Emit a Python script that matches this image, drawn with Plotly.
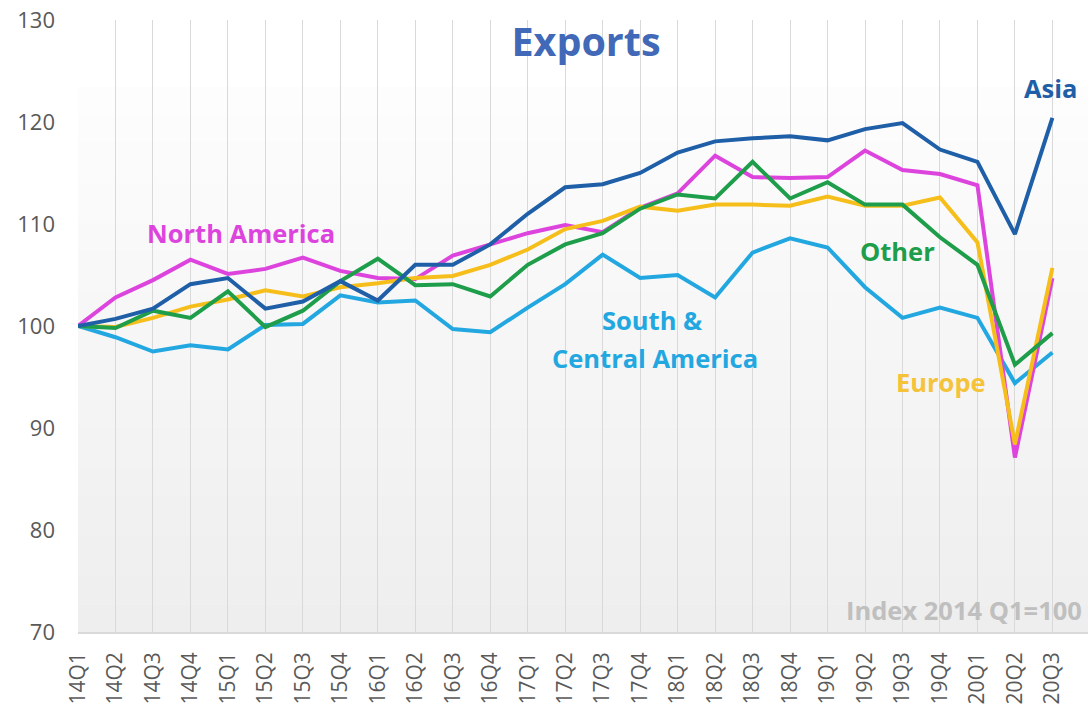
import plotly.graph_objects as go

quarters = ["14Q1","14Q2","14Q3","14Q4","15Q1","15Q2","15Q3","15Q4","16Q1","16Q2",
            "16Q3","16Q4","17Q1","17Q2","17Q3","17Q4","18Q1","18Q2","18Q3","18Q4",
            "19Q1","19Q2","19Q3","19Q4","20Q1","20Q2","20Q3"]

asia = [100, 100.7, 101.7, 104.1, 104.7, 101.7, 102.4, 104.4, 102.5, 106.0,
        106.0, 108.0, 111.0, 113.6, 113.9, 115.0, 117.0, 118.1, 118.4, 118.6,
        118.2, 119.3, 119.9, 117.3, 116.1, 109.0, 120.4]
north_america = [100, 102.8, 104.5, 106.5, 105.1, 105.6, 106.7, 105.4, 104.7, 104.6,
                 106.9, 108.0, 109.1, 109.9, 109.2, 111.6, 113.0, 116.7, 114.6, 114.5,
                 114.6, 117.2, 115.3, 114.9, 113.8, 87.1, 104.7]
europe = [100, 99.9, 100.8, 101.9, 102.6, 103.5, 102.9, 103.8, 104.2, 104.7,
          104.9, 106.0, 107.5, 109.5, 110.3, 111.7, 111.3, 111.9, 111.9, 111.8,
          112.7, 111.8, 111.8, 112.6, 108.2, 88.4, 105.7]
other = [100, 99.8, 101.5, 100.8, 103.4, 99.9, 101.5, 104.4, 106.6, 104.0,
         104.1, 102.9, 106.0, 108.0, 109.1, 111.5, 112.9, 112.5, 116.1, 112.5,
         114.1, 111.9, 111.9, 108.7, 106.0, 96.2, 99.3]
south_central_america = [100, 98.9, 97.5, 98.1, 97.7, 100.1, 100.2, 103.0, 102.3, 102.5,
                         99.7, 99.4, 101.8, 104.1, 107.0, 104.7, 105.0, 102.8, 107.2, 108.6,
                         107.7, 103.8, 100.8, 101.8, 100.8, 94.4, 97.4]

y_ticks = [70, 80, 90, 100, 110, 120, 130]

C_ASIA = "#1F5FA8"
C_NA = "#DD44DD"
C_EU = "#F6BE1A"
C_OTHER = "#1E9E4A"
C_SCA = "#22A7E0"

idx = list(range(len(quarters)))

fig = go.Figure()
series = [
    ("South & Central America", south_central_america, C_SCA),
    ("North America", north_america, C_NA),
    ("Europe", europe, C_EU),
    ("Other", other, C_OTHER),
    ("Asia", asia, C_ASIA),
]
for name, vals, col in series:
    fig.add_trace(go.Scatter(x=idx, y=vals, mode="lines", name=name,
                             line=dict(color=col, width=4), hoverinfo="skip"))

# gradient background for the plot area
shapes = []
n = 40
top_frac = 0.89
c_bot = (238, 238, 238)
c_top = (253, 253, 253)
for k in range(n):
    t = k / (n - 1)
    c = tuple(int(round(c_bot[j] + (c_top[j] - c_bot[j]) * t)) for j in range(3))
    shapes.append(dict(type="rect", xref="paper", yref="paper",
                       x0=0, x1=1, y0=top_frac * k / n, y1=top_frac * (k + 1) / n + 0.001,
                       fillcolor="rgb(%d,%d,%d)" % c, line=dict(width=0), layer="below"))

FONT = "Open Sans"
anns = [
    dict(text="<b>North America</b>", x=4.34, y=109.1, color=C_NA),
    dict(text="<b>Asia</b>", x=25.95, y=123.3, color=C_ASIA),
    dict(text="<b>Other</b>", x=21.86, y=107.35, color=C_OTHER),
    dict(text="<b>South &amp;</b>", x=15.32, y=100.6, color=C_SCA),
    dict(text="<b>Central America</b>", x=15.4, y=96.86, color=C_SCA),
    dict(text="<b>Europe</b>", x=23.04, y=94.5, color="#F5C33A"),
]
annotations = []
for a in anns:
    annotations.append(dict(text=a["text"], x=a["x"], y=a["y"], xref="x", yref="y",
                            showarrow=False, xanchor="center", yanchor="middle",
                            font=dict(family=FONT, size=25.5, color=a["color"])))
annotations.append(dict(text="<b>Index 2014 Q1=100</b>", x=26.83, y=72.16, xref="x", yref="y",
                        showarrow=False, xanchor="right", yanchor="middle",
                        font=dict(family=FONT, size=25.5, color="#BFBFBF")))

fig.update_layout(
    width=1090, height=710,
    margin=dict(l=78, r=2, t=20, b=78, autoexpand=False),
    paper_bgcolor="white",
    plot_bgcolor="white",
    showlegend=False,
    title=dict(text="<b>Exports</b>", x=586 / 1090, xanchor="center", y=1 - 42 / 710,
               yanchor="middle", font=dict(family=FONT, size=39.5, color="#4169B8")),
    shapes=shapes,
    annotations=annotations,
    xaxis=dict(range=[0, 26.95], tickmode="array", tickvals=idx, ticktext=quarters,
               tickangle=-90, showgrid=True, gridcolor="#D9D9D9", gridwidth=1,
               showline=True, linecolor="#D9D9D9", linewidth=1.5, zeroline=False,
               ticks="", ticklabelstandoff=10, automargin=False,
               ticklabeloverflow="allow",
               tickfont=dict(family=FONT, size=21, color="#595959")),
    yaxis=dict(range=[70, 130], tickmode="array", tickvals=y_ticks,
               showgrid=False, zeroline=False, showline=False, ticks="",
               ticklabelstandoff=22, automargin=False,
               ticklabeloverflow="allow",
               tickfont=dict(family=FONT, size=22, color="#595959")),
)

# remove the default page margin so the figure sits at the window's top-left corner
fig.write_html("out.html", config={"displayModeBar": False},
               post_script="document.body.style.margin='0px';")
